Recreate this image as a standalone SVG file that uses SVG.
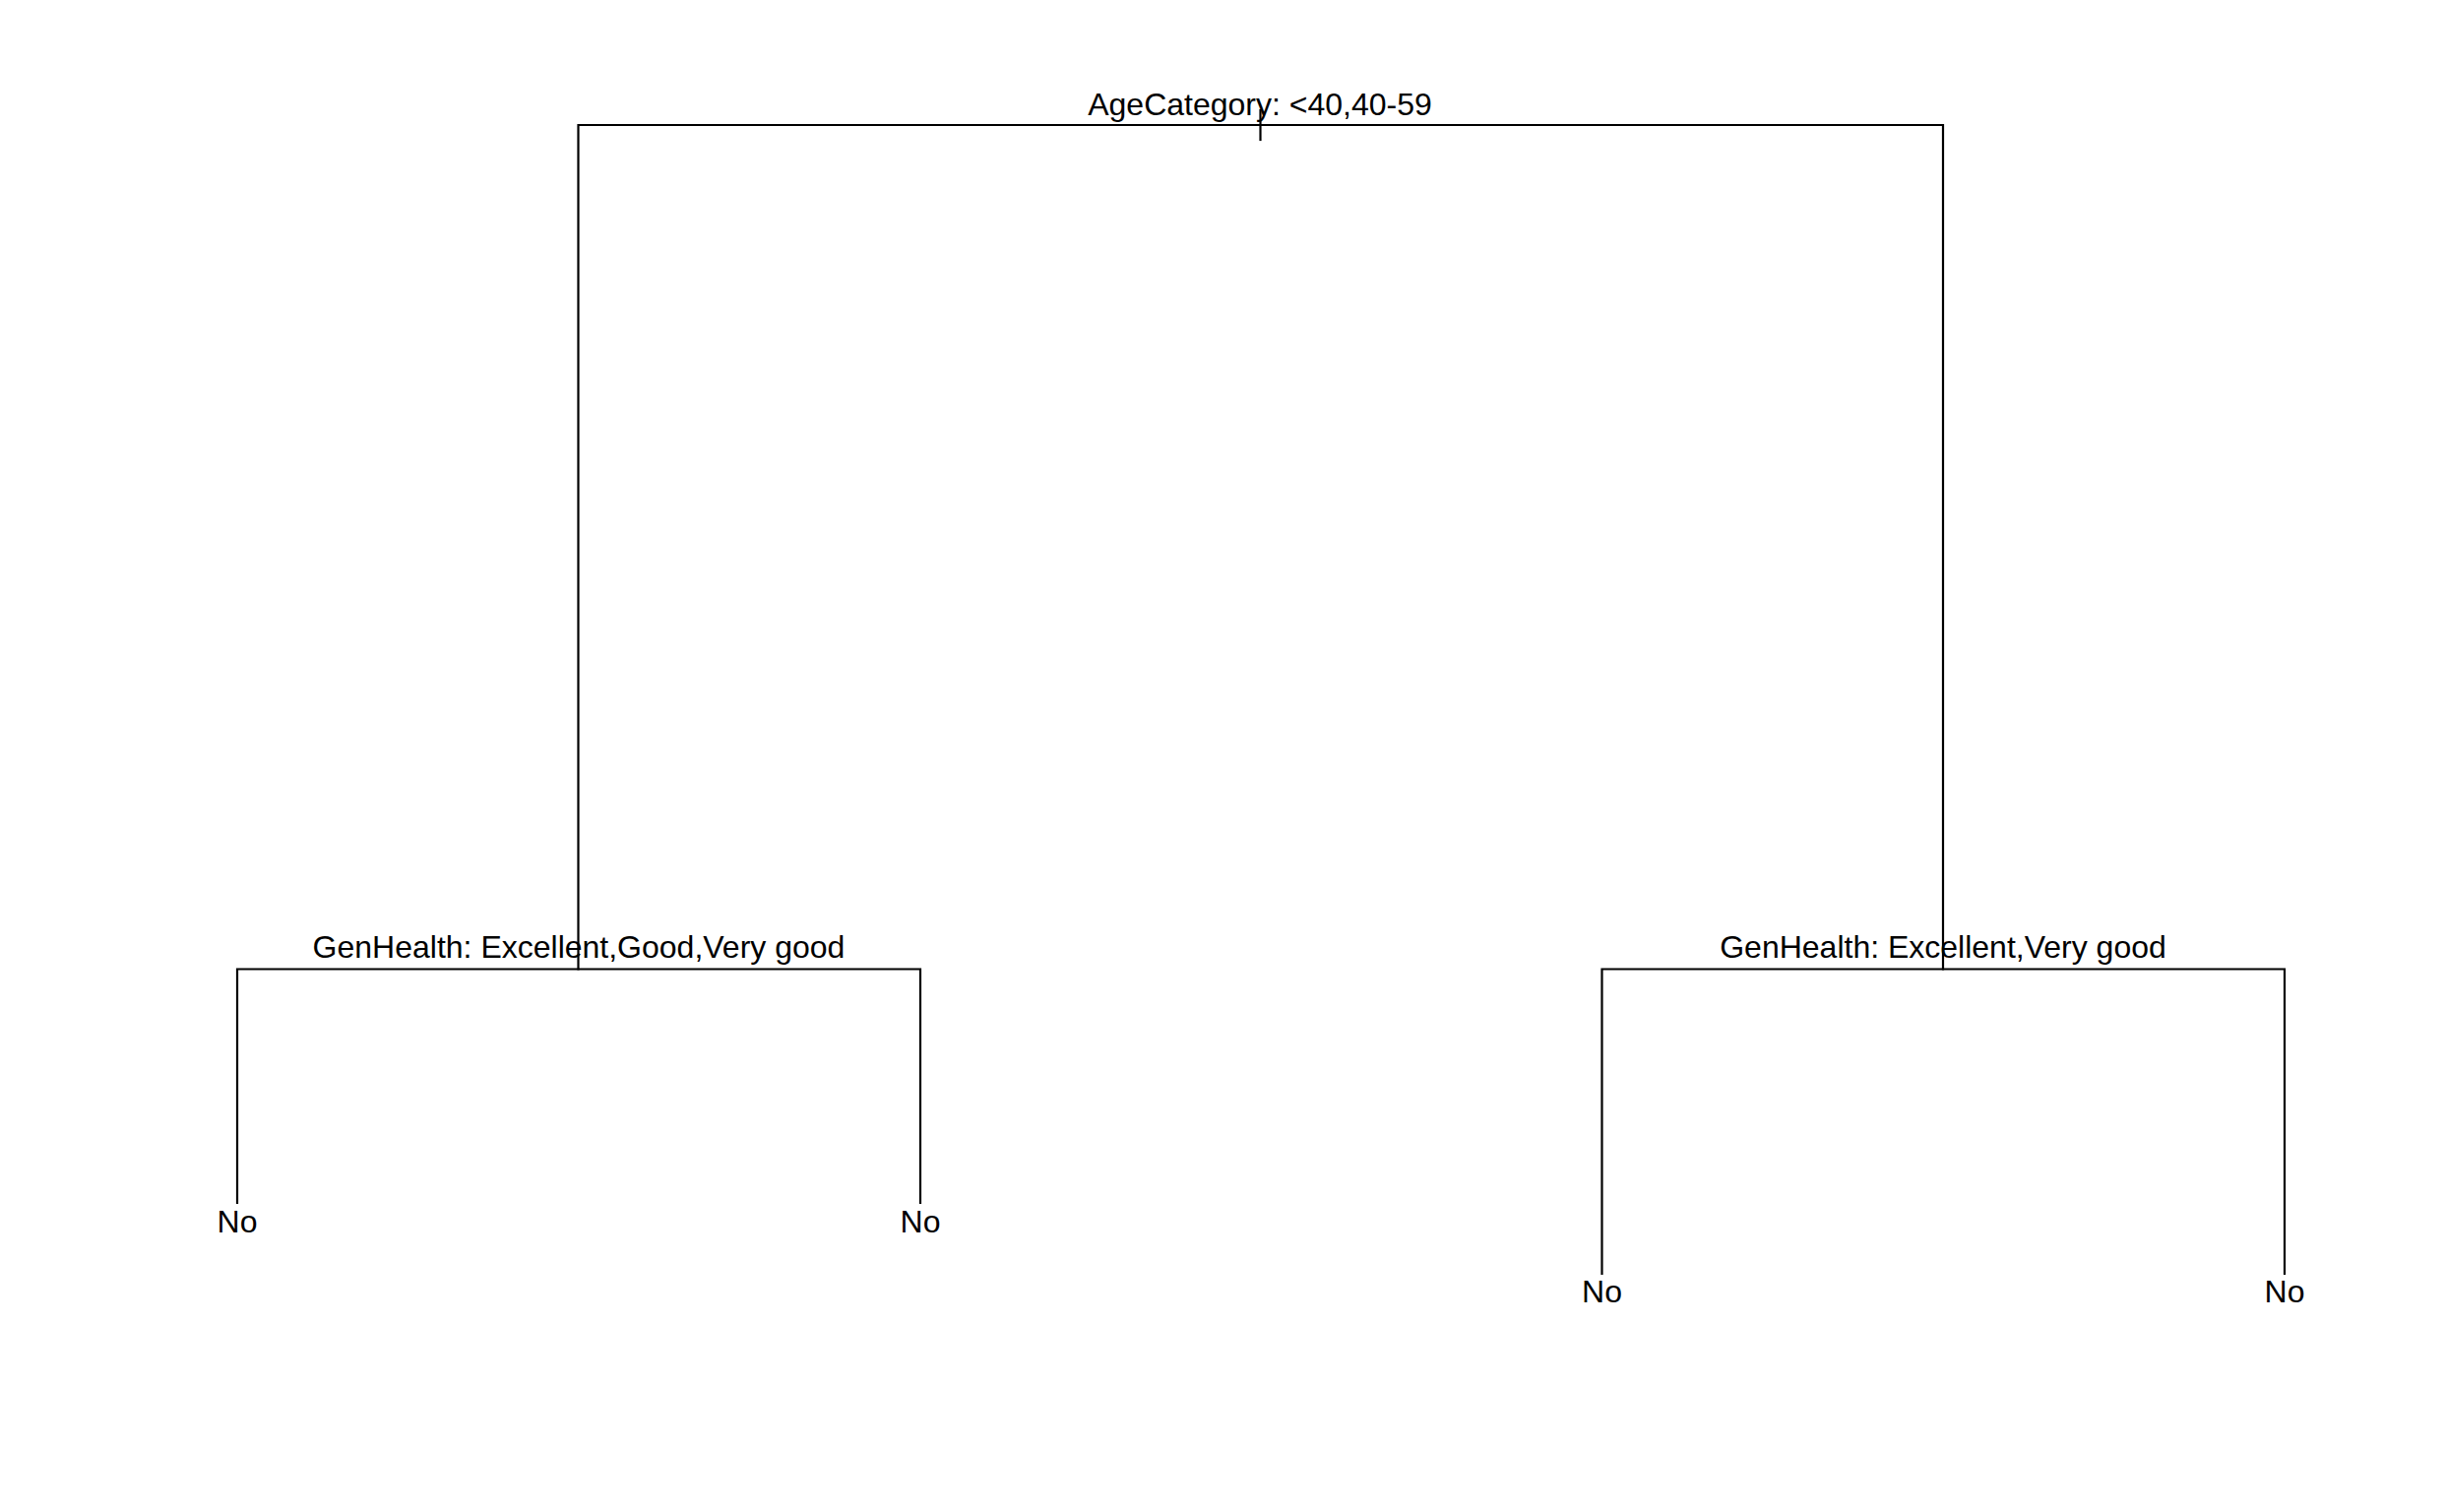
<svg xmlns="http://www.w3.org/2000/svg" width="2485" height="1536" viewBox="0 0 2485 1536">
<style>
.e{stroke:#000;stroke-width:2.2;fill:none;stroke-linecap:square}
.t{font-family:"Liberation Sans",Arial,sans-serif;font-size:32px;fill:#000;text-anchor:middle}
</style>
<rect width="2485" height="1536" fill="#fff"/>
<g id="connectors">
<path class="e" d="M1280.5 112V142"/>
<path class="e" d="M587.5 984.5V127H1974V984.5"/>
<path class="e" d="M241 1222V984.5H935V1222"/>
<path class="e" d="M1627.5 1294V984.5H2321V1294"/>
</g>
<g id="root"><text class="t" x="1280" y="117">AgeCategory: &lt;40,40-59</text></g>
<g id="genhealth_left"><text class="t" x="588" y="973">GenHealth: Excellent,Good,Very good</text></g>
<g id="genhealth_right"><text class="t" x="1974" y="973">GenHealth: Excellent,Very good</text></g>
<g id="leaf1"><text class="t" x="241" y="1252">No</text></g>
<g id="leaf2"><text class="t" x="935" y="1252">No</text></g>
<g id="leaf3"><text class="t" x="1627.5" y="1323">No</text></g>
<g id="leaf4"><text class="t" x="2321" y="1323">No</text></g>
</svg>
